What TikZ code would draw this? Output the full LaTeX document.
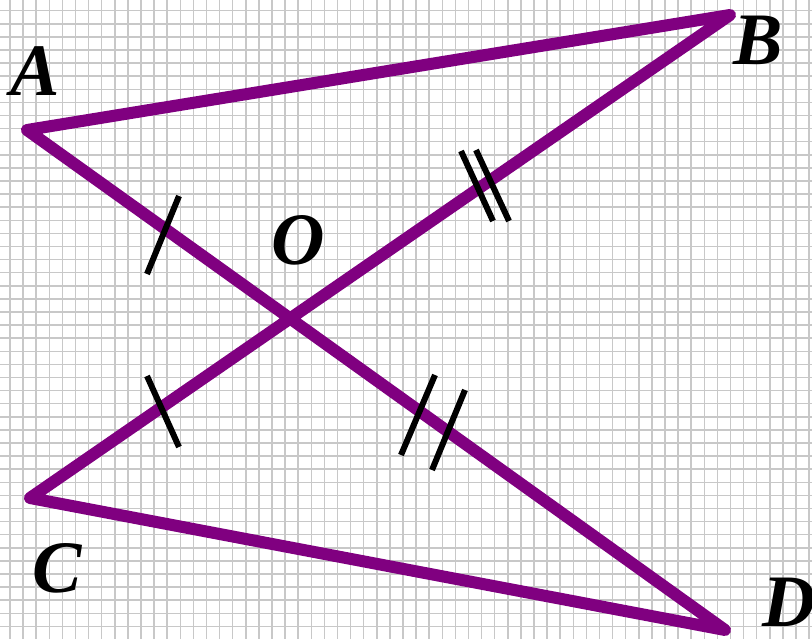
\documentclass[tikz,border=0pt]{standalone}
\usepackage{fontspec}
\setmainfont{Liberation Serif}
\definecolor{seg}{RGB}{128,0,128}
\definecolor{gridc}{RGB}{200,200,200}
\tikzset{
  seg/.style={draw=seg, line width=12pt, line join=round, line cap=round},
  tick/.style={draw=black, line width=6pt},
  lbl/.style={font=\fontsize{74}{74}\selectfont\bfseries\itshape, inner sep=0pt}
}
\begin{document}
\begin{tikzpicture}[x=1pt,y=-1pt]
\useasboundingbox (0,0) rectangle (812,639);
\fill[white] (0,0) rectangle (812,639);
\foreach \i in {0,...,62} {
  \draw[gridc, line width=1.5pt] ({10+13.1*\i},0) -- ({10+13.1*\i},639);
}
\foreach \i in {0,...,48} {
  \draw[gridc, line width=1.5pt] (0,{10.7+13.1*\i}) -- (812,{10.7+13.1*\i});
}
\coordinate (A) at (27,130);
\coordinate (B) at (730,15);
\coordinate (C) at (30,498);
\coordinate (D) at (725,630);
\coordinate (O) at (290,318);
\draw[seg] (A) -- (B) -- (C) -- (D) -- cycle;
% ticks
\coordinate (t1a) at (147,274); \coordinate (t1b) at (179,196);
\coordinate (t2a) at (147,376); \coordinate (t2b) at (179,447);
\coordinate (t3a) at (461,151); \coordinate (t3b) at (493,221);
\coordinate (t4a) at (476,150); \coordinate (t4b) at (509,221);
\coordinate (t5a) at (435,375); \coordinate (t5b) at (401,455);
\coordinate (t6a) at (465,390); \coordinate (t6b) at (432,470);
\draw[tick] (t1a) -- (t1b);
\draw[tick] (t2a) -- (t2b);
\draw[tick] (t3a) -- (t3b);
\draw[tick] (t4a) -- (t4b);
\draw[tick] (t5a) -- (t5b);
\draw[tick] (t6a) -- (t6b);
\node[lbl] (lA) at (35,71) {A};
\node[lbl] (lB) at (758,40) {B};
\node[lbl] (lO) at (298,240) {O};
\node[lbl] (lC) at (57,568) {C};
\node[lbl] (lD) at (789,602) {D};
\end{tikzpicture}
\end{document}
